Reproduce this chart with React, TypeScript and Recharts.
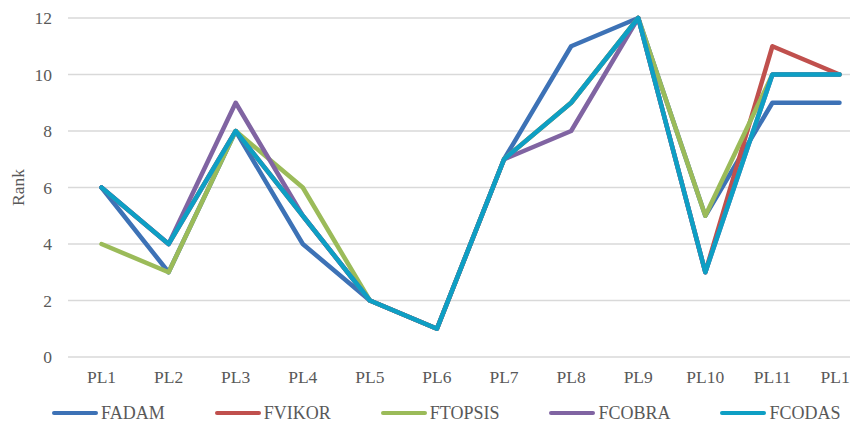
import { LineChart, Line, XAxis, YAxis, CartesianGrid } from 'recharts';

const categories = ['PL1', 'PL2', 'PL3', 'PL4', 'PL5', 'PL6', 'PL7', 'PL8', 'PL9', 'PL10', 'PL11', 'PL12'];
const fadam = [6, 3, 8, 4, 2, 1, 7, 11, 12, 5, 9, 9];
const fvikor = [6, 4, 8, 5, 2, 1, 7, 9, 12, 3, 11, 10];
const ftopsis = [4, 3, 8, 6, 2, 1, 7, 9, 12, 5, 10, 10];
const fcobra = [6, 4, 9, 5, 2, 1, 7, 8, 12, 3, 10, 10];
const fcodas = [6, 4, 8, 5, 2, 1, 7, 9, 12, 3, 10, 10];
const yTicks = [0, 2, 4, 6, 8, 10, 12];

const series = [
    { key: 'FADAM', values: fadam, color: '#3D72B6' },
    { key: 'FVIKOR', values: fvikor, color: '#C0504D' },
    { key: 'FTOPSIS', values: ftopsis, color: '#9BBB59' },
    { key: 'FCOBRA', values: fcobra, color: '#8064A2' },
    { key: 'FCODAS', values: fcodas, color: '#0E9FC4' },
];

const data = categories.map((name, i) => {
    const row: Record<string, string | number> = { name };
    series.forEach(s => { row[s.key] = s.values[i]; });
    return row;
});

const FONT = '"Liberation Serif", "Times New Roman", serif';
const TEXT = '#595959';

// legend drawn as html under the plot, same look as the excel one
const LegendBox = () => (
    <div style={{ position: 'absolute', left: 52, top: 404, display: 'flex', gap: 50, fontFamily: FONT, fontSize: 18, color: TEXT, lineHeight: '18px' }}>
        {series.map(s => (
            <div key={s.key} style={{ display: 'flex', alignItems: 'center' }}>
                <span style={{ display: 'inline-block', width: 46, height: 4.5, borderRadius: 2, background: s.color, marginRight: 3 }} />
                <span>{s.key}</span>
            </div>
        ))}
    </div>
);

export default function App() {
    return (
        <div style={{ position: 'relative', margin: -8, width: 858, height: 428, overflow: 'hidden', background: '#fff' }}>
            <LineChart width={880} height={428} data={data} margin={{ top: 18, right: 7, left: 0, bottom: 31 }}>
                <CartesianGrid vertical={false} stroke="#D9D9D9" strokeWidth={1.3} />
                <XAxis
                    dataKey="name"
                    height={40}
                    axisLine={false}
                    tickLine={false}
                    tickSize={0}
                    tickMargin={14}
                    interval={0}
                    padding={{ left: 33.5, right: 33.5 }}
                    tick={{ fill: TEXT, fontSize: 17.5, fontFamily: FONT }}
                />
                <YAxis
                    width={68}
                    domain={[0, 12]}
                    ticks={yTicks}
                    axisLine={false}
                    tickLine={false}
                    tickSize={0}
                    tickMargin={16}
                    tick={{ fill: TEXT, fontSize: 17.5, fontFamily: FONT }}
                    label={{ value: 'Rank', angle: -90, position: 'insideLeft', offset: 18, fill: TEXT, fontSize: 17.5, fontFamily: FONT, style: { textAnchor: 'middle' } }}
                />
                {series.map(s => (
                    <Line
                        key={s.key}
                        dataKey={s.key}
                        stroke={s.color}
                        strokeWidth={4.5}
                        strokeLinecap="round"
                        strokeLinejoin="round"
                        dot={false}
                        activeDot={false}
                        isAnimationActive={false}
                    />
                ))}
            </LineChart>
            <LegendBox />
        </div>
    );
}
